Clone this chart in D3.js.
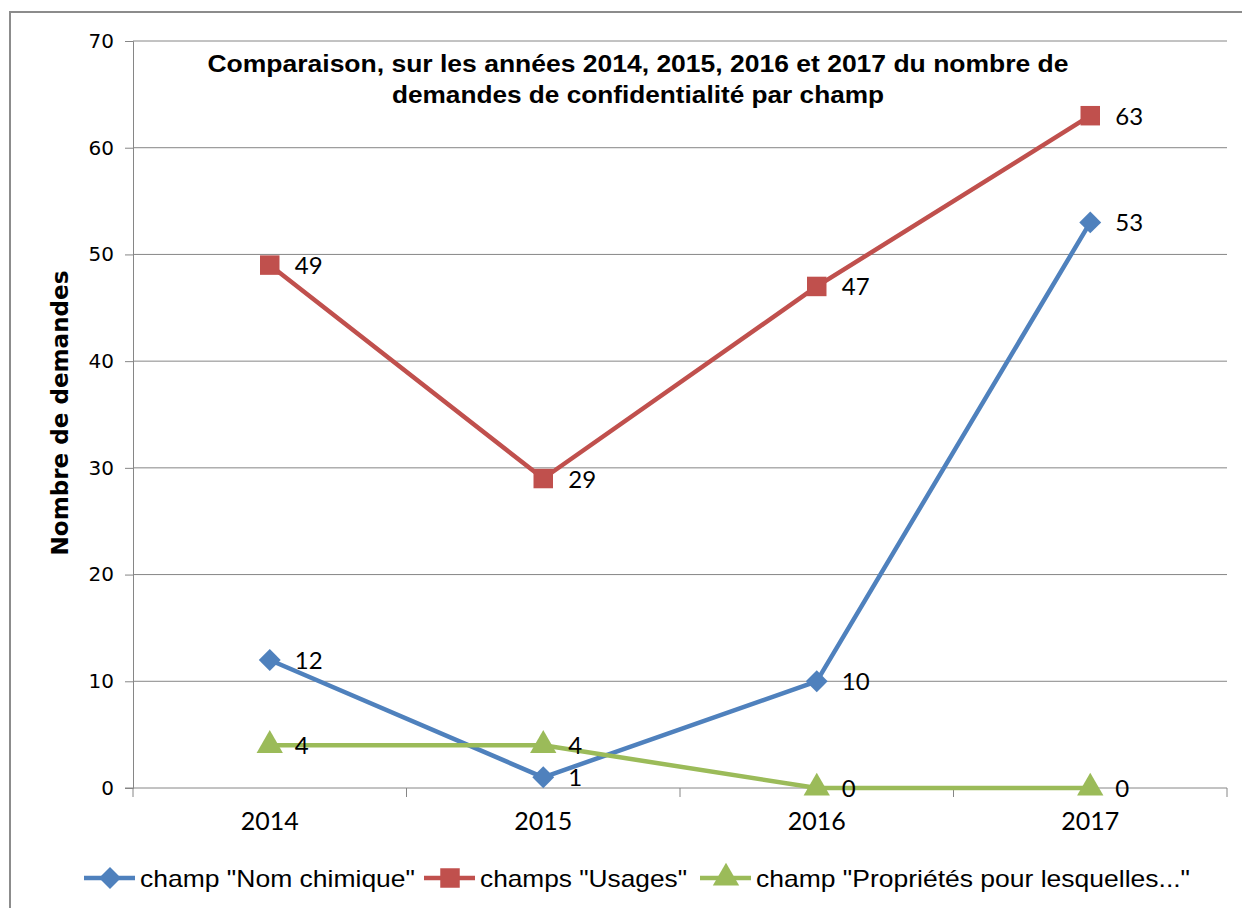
<!DOCTYPE html>
<html>
<head>
<meta charset="utf-8">
<script src="https://cdn.jsdelivr.net/npm/d3@7"></script>
<style>
  body { margin: 0; background: #fff; }
  svg { display: block; }
</style>
</head>
<body>
<div id="chart"></div>
<script>
const width = 1242, height = 908;
const margin = {top: 41, right: 16, bottom: 120, left: 133};

const years = ["2014", "2015", "2016", "2017"];
const nomChimique = [12, 1, 10, 53];
const usages = [49, 29, 47, 63];
const proprietes = [4, 4, 0, 0];
const yTicks = [0, 10, 20, 30, 40, 50, 60, 70];

const series = [
  {name: 'champ "Nom chimique"', values: nomChimique, color: "#4f81bd", symbol: d3.symbolSquare, size: 240, rot: 45, textW: 275},
  {name: 'champs "Usages"', values: usages, color: "#c0504d", symbol: d3.symbolSquare, size: 380, rot: 0, textW: 207},
  {name: 'champ "Propriétés pour lesquelles..."', values: proprietes, color: "#9bbb59", symbol: d3.symbolTriangle, size: 300, rot: 0, textW: 434}
];

const svg = d3.select("#chart").append("svg")
  .attr("width", width)
  .attr("height", height);

// outer frame
svg.append("rect")
  .attr("x", 10).attr("y", 12)
  .attr("width", width + 20).attr("height", height + 20)
  .attr("fill", "none")
  .attr("stroke", "#8c8c8c")
  .attr("stroke-width", 2);

const x = d3.scaleBand()
  .domain(years)
  .range([margin.left, 1227]);

const y = d3.scaleLinear()
  .domain([0, 70])
  .range([788, margin.top]);

// gridlines
svg.append("g")
  .selectAll("line")
  .data(yTicks.filter(d => d > 0))
  .enter().append("line")
  .attr("x1", margin.left).attr("x2", 1227)
  .attr("y1", d => y(d)).attr("y2", d => y(d))
  .attr("stroke", "#868686")
  .attr("stroke-width", 1);

// y axis
const yAxis = svg.append("g")
  .attr("transform", `translate(${margin.left},0)`)
  .call(d3.axisLeft(y).tickValues(yTicks).tickSize(8).tickPadding(11));
yAxis.select(".domain").attr("stroke", "#868686");
yAxis.selectAll(".tick line").attr("stroke", "#868686");
yAxis.selectAll("text")
  .attr("font-family", "DejaVu Sans")
  .attr("font-size", 20)
  .attr("fill", "#000");

// x axis
const xAxis = svg.append("g")
  .attr("transform", `translate(0,${y(0)})`)
  .call(d3.axisBottom(x).tickSize(0).tickPadding(24));
xAxis.select(".domain").remove();
xAxis.append("line")
  .attr("x1", margin.left - 8).attr("x2", 1227)
  .attr("stroke", "#868686");
xAxis.selectAll(".tick text")
  .attr("font-family", "Lato")
  .attr("font-size", 25)
  .attr("fill", "#000");
// tick marks on category boundaries
xAxis.selectAll(".bound")
  .data(d3.range(years.length + 1))
  .enter().append("line")
  .attr("x1", i => x.range()[0] + i * x.step())
  .attr("x2", i => x.range()[0] + i * x.step())
  .attr("y1", 0).attr("y2", 9)
  .attr("stroke", "#868686");

// lines and markers
const line = d3.line()
  .x((d, i) => x(years[i]) + x.bandwidth() / 2)
  .y(d => y(d));

series.forEach(s => {
  const g = svg.append("g");
  g.append("path")
    .datum(s.values)
    .attr("d", line)
    .attr("fill", "none")
    .attr("stroke", s.color)
    .attr("stroke-width", 4.5)
    .attr("stroke-linejoin", "round");
  g.selectAll("path.pt")
    .data(s.values)
    .enter().append("path")
    .attr("class", "pt")
    .attr("d", d3.symbol().type(s.symbol).size(s.size))
    .attr("transform", (d, i) => `translate(${x(years[i]) + x.bandwidth() / 2},${y(d)}) rotate(${s.rot})`)
    .attr("fill", s.color);
  g.selectAll("text")
    .data(s.values)
    .enter().append("text")
    .attr("x", (d, i) => x(years[i]) + x.bandwidth() / 2 + 25)
    .attr("y", d => y(d) + 9)
    .attr("font-family", "Lato")
    .attr("font-size", 24)
    .attr("fill", "#000")
    .text(d => d);
});

// title
const titleLines = [
  "Comparaison, sur les années 2014, 2015, 2016 et 2017 du nombre de",
  "demandes de confidentialité par champ"
];
const titleW = [861, 492];
svg.append("g")
  .selectAll("text")
  .data(titleLines)
  .enter().append("text")
  .attr("x", 638)
  .attr("y", (d, i) => 72 + i * 31)
  .attr("text-anchor", "middle")
  .attr("textLength", (d, i) => titleW[i])
  .attr("lengthAdjust", "spacingAndGlyphs")
  .attr("font-family", "Liberation Sans, Arial")
  .attr("font-weight", "bold")
  .attr("font-size", 23)
  .attr("fill", "#000")
  .text(d => d);

// y axis title
svg.append("text")
  .attr("transform", "translate(68,413) rotate(-90)")
  .attr("text-anchor", "middle")
  .attr("textLength", 285)
  .attr("lengthAdjust", "spacingAndGlyphs")
  .attr("font-family", "DejaVu Sans")
  .attr("font-weight", "bold")
  .attr("font-size", 23)
  .attr("fill", "#000")
  .text("Nombre de demandes");

// legend
const legendX = [84, 424, 700];
const legend = svg.append("g")
  .selectAll("g")
  .data(series)
  .enter().append("g")
  .attr("transform", (d, i) => `translate(${legendX[i]},878)`);
legend.append("line")
  .attr("x1", 0).attr("x2", 51)
  .attr("stroke", d => d.color)
  .attr("stroke-width", 4.5);
legend.append("path")
  .attr("d", d => d3.symbol().type(d.symbol).size(d.size)())
  .attr("transform", d => `translate(26,0) rotate(${d.rot})`)
  .attr("fill", d => d.color);
legend.append("text")
  .attr("x", 56)
  .attr("y", 9)
  .attr("textLength", d => d.textW)
  .attr("lengthAdjust", "spacingAndGlyphs")
  .attr("font-family", "Liberation Sans, Arial")
  .attr("font-size", 24)
  .attr("fill", "#000")
  .text(d => d.name);
</script>
</body>
</html>
